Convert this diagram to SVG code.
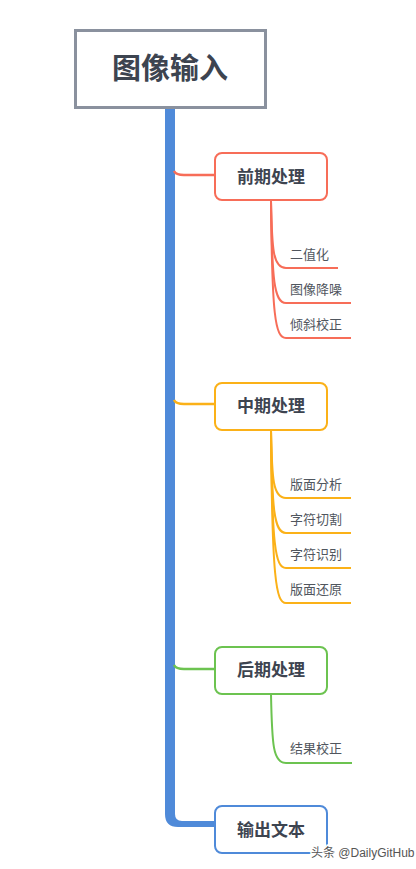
<svg xmlns="http://www.w3.org/2000/svg" width="416" height="869" viewBox="0 0 416 869">
<style>
.root{fill:#fff;stroke:#8a919e;stroke-width:3}
.rootT{font-family:"Noto Sans CJK SC",sans-serif;font-weight:bold;font-size:29px;fill:#3d4450;text-anchor:middle}
.box{fill:#fff;stroke-width:2}
.bT{font-family:"Noto Sans CJK SC",sans-serif;font-weight:bold;font-size:17px;fill:#3d4450;text-anchor:middle}
.sT{font-family:"Noto Sans CJK SC",sans-serif;font-size:13px;fill:#50565e}
.c{fill:none;stroke-width:2.5}
.s{fill:none;stroke-width:2}
.red{stroke:#f76d58}
.org{stroke:#fbb118}
.grn{stroke:#6cc350}
.blu{stroke:#4f8ad9}
.wm{font-family:"Liberation Sans","Noto Sans CJK SC",sans-serif;font-size:12px;fill:#555;stroke:#fff;stroke-width:3;paint-order:stroke}
</style>
<rect width="416" height="869" fill="#fff"/>
<g id="connectors">
<path d="M165,108 H175 V814 Q175,821 182,821 H216 V827 H178 Q165,827 165,814 Z" fill="#4f8ad9"/>
<path class="c red" d="M174,171 Q176,175 184,175 H216"/>
<path class="c org" d="M174,400 Q176,404 184,404 H216"/>
<path class="c grn" d="M174,665 Q176,669 184,669 H216"/>
<path class="s red" d="M271,201 C272,250 273,268 286,268 H338"/>
<path class="s red" d="M271,201 C272,280 274,303 286,303 H351"/>
<path class="s red" d="M271,201 C272,315 275,338 286,338 H351"/>
<path class="s org" d="M271,430 C272,480 273,498 286,498 H351"/>
<path class="s org" d="M271,430 C272,510 274,533 286,533 H351"/>
<path class="s org" d="M271,430 C272,545 275,568 286,568 H351"/>
<path class="s org" d="M271,430 C272,580 276,603 286,603 H351"/>
<path class="s grn" d="M271,694 C272,745 273,763 286,763 H352"/>
</g>
<g id="root">
<rect class="root" x="75.5" y="30.5" width="190" height="77"/>
<text class="rootT" x="170" y="79">图像输入</text>
</g>
<g id="n1">
<rect class="box red" x="215" y="153" width="112" height="47" rx="7"/>
<text class="bT" x="271" y="183">前期处理</text>
</g>
<g id="n1a"><text class="sT" x="290" y="259">二值化</text></g>
<g id="n1b"><text class="sT" x="290" y="294">图像降噪</text></g>
<g id="n1c"><text class="sT" x="290" y="329">倾斜校正</text></g>
<g id="n2">
<rect class="box org" x="215" y="383" width="112" height="47" rx="7"/>
<text class="bT" x="271" y="412">中期处理</text>
</g>
<g id="n2a"><text class="sT" x="290" y="489">版面分析</text></g>
<g id="n2b"><text class="sT" x="290" y="524">字符切割</text></g>
<g id="n2c"><text class="sT" x="290" y="559">字符识别</text></g>
<g id="n2d"><text class="sT" x="290" y="594">版面还原</text></g>
<g id="n3">
<rect class="box grn" x="215" y="647" width="112" height="47" rx="7"/>
<text class="bT" x="271" y="676">后期处理</text>
</g>
<g id="n3a"><text class="sT" x="290" y="753">结果校正</text></g>
<g id="n4">
<rect class="box blu" x="215" y="806" width="112" height="47" rx="7"/>
<text class="bT" x="271" y="836">输出文本</text>
</g>
<text class="wm" x="311" y="857">头条 @DailyGitHub</text>
</svg>
